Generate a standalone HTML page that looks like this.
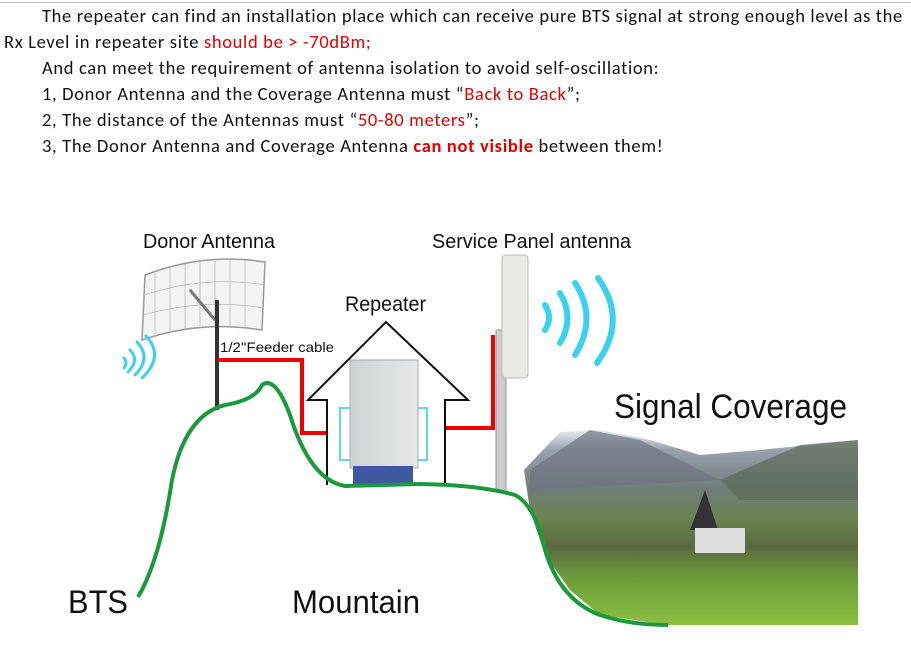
<!DOCTYPE html>
<html><head><meta charset="utf-8"><style>
body{margin:0;background:#fff;width:911px;height:657px;overflow:hidden;position:relative;font-family:"Liberation Sans",sans-serif}
.t{position:absolute;font-size:18.5px;letter-spacing:0.66px;color:#111;white-space:nowrap;font-family:"Carlito","Liberation Sans",sans-serif}
.r{color:#e00000}
</style></head><body>
<div style="position:absolute;left:0;top:2px;width:911px;height:1px;background:#bbb"></div>
<div class="t" style="left:42px;top:4px">The repeater can find an installation place which can receive pure BTS signal at strong enough level as the</div>
<div class="t" style="left:4px;top:30px">Rx Level in repeater site <span class="r">should be &gt; -70dBm;</span></div>
<div class="t" style="left:42px;top:56px">And can meet the requirement of antenna isolation to avoid self-oscillation:</div>
<div class="t" style="left:42px;top:82px">1, Donor Antenna and the Coverage Antenna must “<span class="r">Back to Back</span>”;</div>
<div class="t" style="left:42px;top:108px">2, The distance of the Antennas must “<span class="r">50-80 meters</span>”;</div>
<div class="t" style="left:42px;top:134px">3, The Donor Antenna and Coverage Antenna <b class="r">can not visible</b> between them!</div>
<svg width="911" height="657" style="position:absolute;left:0;top:0" font-family="Liberation Sans,sans-serif">
<defs>
<linearGradient id="land" x1="0" y1="0" x2="0" y2="1">
<stop offset="0" stop-color="#e8eef4"/><stop offset="0.1" stop-color="#9aa2b0"/><stop offset="0.3" stop-color="#6f7d7a"/><stop offset="0.45" stop-color="#6a8450"/><stop offset="0.6" stop-color="#5a6a40"/><stop offset="0.75" stop-color="#6a9a3a"/><stop offset="1" stop-color="#8cc040"/></linearGradient>
<linearGradient id="box" x1="0" x2="1"><stop offset="0" stop-color="#cfd3d3"/><stop offset="1" stop-color="#e6e8e8"/></linearGradient>
</defs>
<path d="M524,470 L560,432 L600,430 L650,440 L700,455 L760,450 L858,440 L858,625 L668,625 L600,615 L570,590 L545,555 L530,510 Z" fill="url(#land)"/>
<path d="M530,470 L590,430 L640,440 L720,480 L530,490 Z" fill="#6e7480" opacity="0.7"/>
<path d="M720,480 L800,445 L858,440 L858,500 L740,500 Z" fill="#5a6a58" opacity="0.7"/>
<path d="M690,530 L705,490 L718,530 Z" fill="#333"/><rect x="695" y="528" width="50" height="25" fill="#ddd"/>
<!-- donor dish -->
<path d="M145,275 Q205,252 265,262 L262,330 Q200,320 142,340 Z" fill="#f4f4f4" stroke="#999" stroke-width="1.5"/>
<g stroke="#bbb" stroke-width="0.8" fill="none"><path d="M155,272 V338 M170,268 V333 M185,264 V330 M200,262 V327 M215,261 V326 M230,260 V326 M245,261 V327"/><path d="M144,295 Q205,275 264,285 M143,315 Q205,298 263,308"/></g>
<path d="M190,290 L215,320" stroke="#777" stroke-width="3"/>
<line x1="217" y1="300" x2="217" y2="410" stroke="#333" stroke-width="4"/>
<polyline points="217,360 302,360 302,433 327,433" fill="none" stroke="#e00" stroke-width="4"/>
<polyline points="445,428 493,428 493,335" fill="none" stroke="#e00" stroke-width="4"/>
<polyline points="327,485 327,400 308,400 386,322 468,400 445,400 445,485" fill="none" stroke="#111" stroke-width="2"/>
<rect x="340" y="408" width="12" height="52" fill="none" stroke="#5fd8e8" stroke-width="2"/>
<rect x="415" y="408" width="12" height="52" fill="none" stroke="#5fd8e8" stroke-width="2"/>
<rect x="350" y="360" width="68" height="108" fill="url(#box)" stroke="#aaa"/>
<rect x="353" y="466" width="60" height="18" fill="#3d5aa0"/>
<rect x="496" y="330" width="10" height="162" fill="#ccc" stroke="#999"/>
<rect x="502" y="255" width="26" height="123" rx="4" fill="#e9e9e6" stroke="#bbb"/>
<g fill="none" stroke="#3ad2ee" stroke-width="6" stroke-linecap="round">
<path d="M545,305 Q553,318 545,330"/><path d="M560,293 Q575,318 560,343"/><path d="M575,283 Q598,318 575,355"/><path d="M598,278 Q628,320 597,363"/>
</g>
<g fill="none" stroke="#3ad2ee" stroke-width="3" stroke-linecap="round">
<path d="M124,368 Q128,362 124,358"/><path d="M128,372 Q140,360 130,350"/><path d="M135,375 Q152,358 137,342"/><path d="M142,378 Q165,356 146,336" /></g>
<path d="M138,597 Q160,560 172,480 Q185,415 225,405 Q255,400 262,385 Q275,375 290,415 Q310,480 345,486 L420,484 Q480,485 515,495 Q535,505 545,550 Q560,600 600,615 Q630,625 668,625" fill="none" stroke="#1a9a3a" stroke-width="4"/>
<g fill="#111">
<text x="143" y="248" font-size="20" textLength="132" lengthAdjust="spacingAndGlyphs">Donor Antenna</text>
<text x="432" y="248" font-size="20" textLength="199" lengthAdjust="spacingAndGlyphs">Service Panel antenna</text>
<text x="345" y="311" font-size="21" textLength="81" lengthAdjust="spacingAndGlyphs">Repeater</text>
<text x="220" y="352" font-size="14" textLength="114" lengthAdjust="spacingAndGlyphs">1/2''Feeder cable</text>
<text x="614" y="418" font-size="34" textLength="233" lengthAdjust="spacingAndGlyphs">Signal Coverage</text>
<text x="68" y="613" font-size="32" textLength="60" lengthAdjust="spacingAndGlyphs">BTS</text>
<text x="292" y="613" font-size="32" textLength="128" lengthAdjust="spacingAndGlyphs">Mountain</text>
</g>
</svg>
</body></html>
